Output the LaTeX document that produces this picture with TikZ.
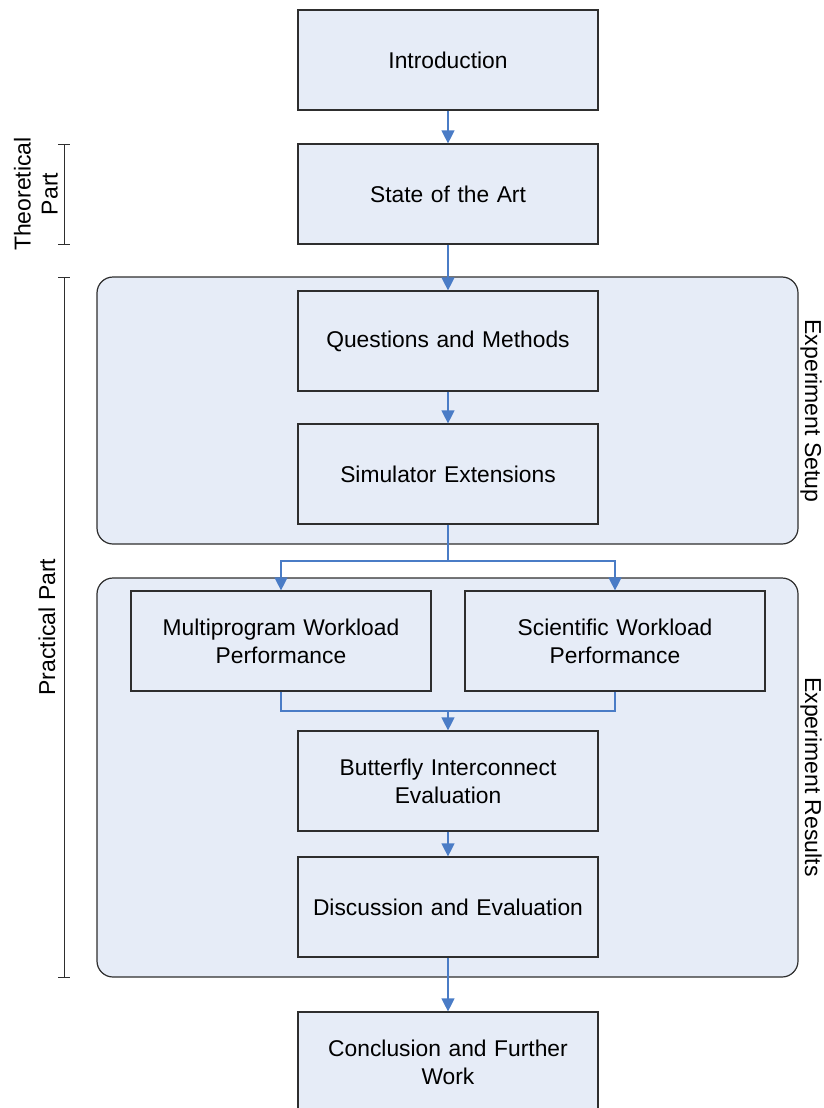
\documentclass[tikz,border=0pt]{standalone}
\usepackage{fontspec}
\setmainfont{Liberation Sans}
\usetikzlibrary{arrows.meta,positioning}
\definecolor{boxfill}{HTML}{E6ECF7}
\definecolor{linkblue}{HTML}{4A7CC6}
\definecolor{edge}{HTML}{2E2E2E}
\begin{document}
\begin{tikzpicture}[x=1pt,y=-1pt,
  stepbox/.style={draw=edge,line width=1.2pt,fill=boxfill,minimum width=300pt,minimum height=100pt,
    align=center,font=\fontsize{22.8}{28}\selectfont,inner sep=0pt,text width=290pt},
  group/.style={draw=edge,line width=1.2pt,fill=boxfill,rounded corners=16pt},
  link/.style={draw=linkblue,line width=1.2pt},
  arr/.style={link,-{Triangle[width=13pt,length=13pt]}},
  side/.style={font=\fontsize{23}{27}\selectfont,align=center},
  brace/.style={draw=edge,line width=1pt}]
\useasboundingbox (0,0) rectangle (823,1108);
% groups
\draw[group] (97,277) rectangle (798,544);
\draw[group] (97,578) rectangle (798,977);
% steps
\node[stepbox] (intro) at (448,60) {Introduction};
\node[stepbox] (soa) at (448,194) {State of the Art};
\node[stepbox] (qm) at (448,341) {Questions and Methods};
\node[stepbox] (sim) at (448,474) {Simulator Extensions};
\node[stepbox] (multi) at (281,641) {Multiprogram Workload\\Performance};
\node[stepbox] (sci) at (615,641) {Scientific Workload\\Performance};
\node[stepbox] (bfly) at (448,781) {Butterfly Interconnect\\Evaluation};
\node[stepbox] (disc) at (448,907) {Discussion and Evaluation};
\node[stepbox] (concl) at (448,1062) {Conclusion and Further\\Work};
% connectors
\draw[arr] (intro) -- (soa);
\draw[arr] (soa) -- (qm);
\draw[arr] (qm) -- (sim);
\coordinate (split) at (448,561);
\coordinate (merge) at (448,711);
\draw[link] (sim.south) -- (split);
\draw[arr] (split) -| (multi.north);
\draw[arr] (split) -| (sci.north);
\draw[link] (multi.south) |- (merge);
\draw[link] (sci.south) |- (merge);
\draw[arr] (merge) -- (bfly.north);
\draw[arr] (bfly) -- (disc);
\draw[arr] (disc) -- (concl);
% part brackets
\draw[brace] (58,144) -- (70,144) (64,144) -- (64,244) (58,244) -- (70,244);
\draw[brace] (58,277) -- (70,277) (64,277) -- (64,977) (58,977) -- (70,977);
\node[side,rotate=90] (theo) at (36,194) {Theoretical\\Part};
\node[side,rotate=90] (prac) at (47,627) {Practical Part};
\node[side,rotate=-90] (setup) at (811,411) {Experiment Setup};
\node[side,rotate=-90] (results) at (811,777) {Experiment Results};
\end{tikzpicture}
\end{document}
